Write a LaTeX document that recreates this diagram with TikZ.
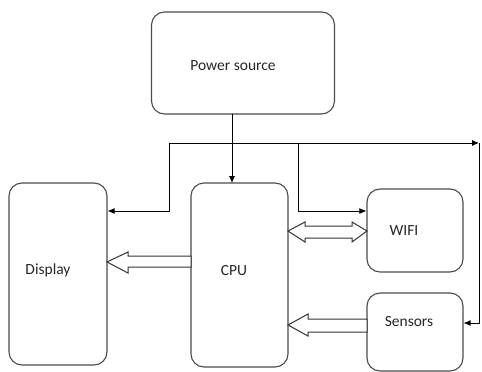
\documentclass[tikz,border=0pt]{standalone}
\usepackage{fontspec}
\setmainfont{Carlito}
\usetikzlibrary{arrows.meta,calc}
\begin{document}
\begin{tikzpicture}[x=1pt,y=-1pt,
  box/.style={draw=black!70,line width=1.1pt,rounded corners=13pt,inner sep=0pt},
  lbl/.style={font=\fontsize{15.5}{18}\selectfont,text=black!85,inner sep=0pt},
  conn/.style={draw=black,line width=0.9pt,-{Latex[length=7pt,width=6pt]}},
  hollow/.style={draw=black!80,line width=1pt,fill=white,line join=miter}]
\useasboundingbox (0,0) rectangle (482,372);
\node[box,minimum width=183pt,minimum height=102pt] (power) at (243,63) {};
\node[box,minimum width=98pt,minimum height=182pt] (display) at (58,274) {};
\node[box,minimum width=97pt,minimum height=184pt] (cpu) at (239.5,275) {};
\node[box,minimum width=96pt,minimum height=83pt] (wifi) at (415,230.5) {};
\node[box,minimum width=96pt,minimum height=78pt] (sensors) at (415,332) {};
\node[lbl] (tpower) at (233,66) {Power source};
\node[lbl] (tdisplay) at (48,270) {Display};
\node[lbl] (tcpu) at (234,271) {CPU};
\node[lbl] (twifi) at (404,231) {WIFI};
\node[lbl] (tsensors) at (409,322) {Sensors};
% connectors
\coordinate (pb) at (232,114);
\coordinate (ct) at (232,183);
\coordinate (jl) at (169,143);
\coordinate (jw) at (298,143);
\coordinate (jr) at (479,143);
\coordinate (jd) at (479,323);
\draw[conn] (pb) -- (ct);
\draw[conn] (jl) -- (jr);
\draw[conn] (jl) -- (169,211) -- (display.east |- 0,211);
\draw[conn] (jw) -- (298,211) -- (wifi.west |- 0,211);
\draw[conn] (jr) -- (jd) -- (sensors.east |- jd);
% hollow arrows
\draw[hollow] (191,256) -- (128,256) -- (128,252) -- (107,262) -- (128,273) -- (128,267) -- (191,267) -- cycle;
\draw[hollow] (305,226) -- (352,226) -- (352,222) -- (367,231) -- (352,242) -- (352,238) -- (305,238) -- (305,242) -- (288,231) -- (305,222) -- cycle;
\draw[hollow] (367,319) -- (308,319) -- (308,314) -- (288,325) -- (308,336) -- (308,332) -- (367,332) -- cycle;
\end{tikzpicture}
\end{document}
